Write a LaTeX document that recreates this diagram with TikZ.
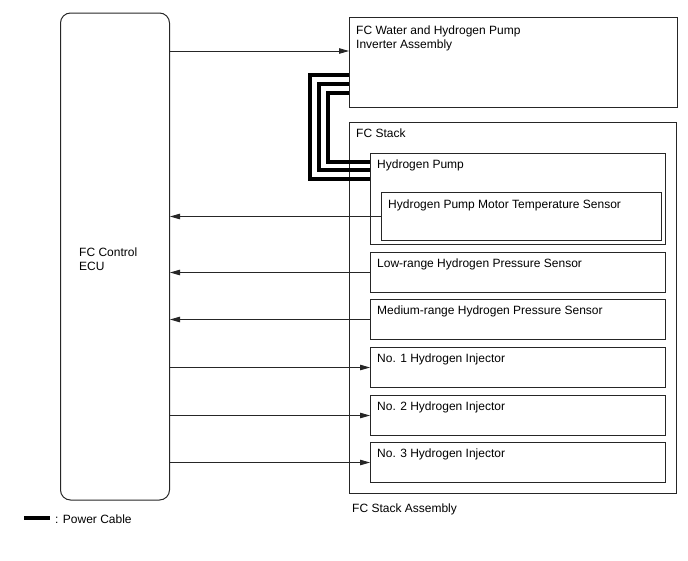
\documentclass[tikz,border=0pt]{standalone}
\usepackage{fontspec}
\setmainfont{Liberation Sans}
\usetikzlibrary{arrows.meta,calc}

\tikzset{
  blk/.style={draw=black!85,line width=1pt,anchor=north west,inner sep=0pt},
  lbl/.style={anchor=north west,inner sep=0pt,xshift=7pt,yshift=-6.5pt,align=left},
  sig/.style={draw=black!85,line width=0.9pt,-{Triangle[length=10pt,width=5.5pt]}},
  cable/.style={line width=3.6pt},
}

\begin{document}
\begin{tikzpicture}[x=1pt,y=-1pt,font=\fontsize{12pt}{14pt}\selectfont]
  \useasboundingbox (0,0) rectangle (688,560);
  % ECU
  \node[blk,rounded corners=10pt,minimum width=109pt,minimum height=487pt] (ecu) at (60,12.5) {};
  \node[anchor=west,align=left,inner sep=0pt] (ecutxt) at ($(ecu.west)+(19,3)$) {FC Control\\ECU};
  % inverter and stack
  \node[blk,minimum width=328pt,minimum height=90pt,
        label={[lbl,yshift=-2pt]north west:{FC Water and Hydrogen Pump\\Inverter Assembly}}] (inv) at (349,17) {};
  \node[blk,minimum width=327pt,minimum height=371pt,
        label={[lbl]north west:FC Stack},
        label={[anchor=north west,inner sep=0pt,xshift=3pt,yshift=-10pt]south west:FC Stack Assembly}] (stack) at (349,122) {};
  \node[blk,minimum width=295pt,minimum height=91pt,label={[lbl]north west:Hydrogen Pump}] (pump) at (370,153) {};
  \node[blk,minimum width=280pt,minimum height=48pt,label={[lbl,yshift=-1pt]north west:Hydrogen Pump Motor Temperature Sensor}] (tsens) at (381,192) {};
  \node[blk,minimum width=295pt,minimum height=40pt,label={[lbl]north west:Low-range Hydrogen Pressure Sensor}] (lowp) at (370,252) {};
  \node[blk,minimum width=295pt,minimum height=40pt,label={[lbl]north west:Medium-range Hydrogen Pressure Sensor}] (medp) at (370,299) {};
  \node[blk,minimum width=295pt,minimum height=40pt,label={[lbl]north west:No. 1 Hydrogen Injector}] (inja) at (370,347) {};
  \node[blk,minimum width=295pt,minimum height=40pt,label={[lbl]north west:No. 2 Hydrogen Injector}] (injb) at (370,395) {};
  \node[blk,minimum width=295pt,minimum height=40pt,label={[lbl]north west:No. 3 Hydrogen Injector}] (injc) at (370,442) {};

  % signal lines
  \coordinate (invin) at ($(inv.north west)+(0,34)$);
  \draw[sig] (invin -| ecu.east) -- (invin);
  \draw[sig] (tsens.west) -- (tsens.west -| ecu.east);
  \draw[sig] (lowp.west) -- (lowp.west -| ecu.east);
  \draw[sig] (medp.west) -- (medp.west -| ecu.east);
  \foreach \n in {inja,injb,injc}
    \draw[sig] (\n.west -| ecu.east) -- (\n.west);

  % power cables
  \draw[cable] ($(inv.north west)+(0,58)$) -- ++(-39,0) |- ($(pump.north west)+(0,26)$);
  \draw[cable] ($(inv.north west)+(0,67)$) -- ++(-30,0) |- ($(pump.north west)+(0,17)$);
  \draw[cable] ($(inv.north west)+(0,76)$) -- ++(-21,0) |- ($(pump.north west)+(0,9)$);

  % legend
  \node[anchor=west,inner sep=0pt] (legtxt) at (55,519) {: Power Cable};
  \draw[cable] ($(legtxt.west)+(-31,-1)$) -- ++(26,0);
\end{tikzpicture}
\end{document}
